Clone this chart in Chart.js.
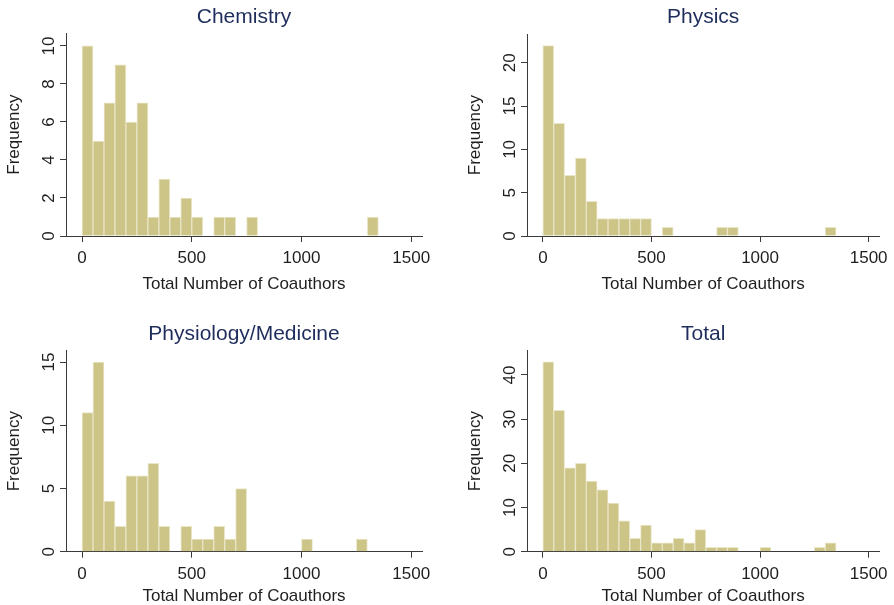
<!DOCTYPE html>
<html><head><meta charset="utf-8">
<script src="https://cdn.jsdelivr.net/npm/chart.js@4.4.0/dist/chart.umd.min.js"></script>
<style>
html,body{margin:0;padding:0;background:#fff;overflow:hidden;width:894px;height:605px;}
.p{position:absolute;}
canvas{display:block;}
</style></head><body>
<div class="p" style="left:0;top:0;"><canvas id="c1" width="447" height="302"></canvas></div>
<div class="p" style="left:447px;top:0;"><canvas id="c2" width="447" height="302"></canvas></div>
<div class="p" style="left:0;top:317px;"><canvas id="c3" width="447" height="290"></canvas></div>
<div class="p" style="left:447px;top:317px;"><canvas id="c4" width="447" height="290"></canvas></div>
<script>
// Histogram bins (start of each 50-wide bin)
const binStart = [0,50,100,150,200,250,300,350,400,450,500,550,600,650,700,750,800,850,900,950,1000,1050,1100,1150,1200,1250,1300];
const binWidth = 50;
const chemistry  = [10,5,7,9,6,7,1,3,1,2,1,0,1,1,0,1,0,0,0,0,0,0,0,0,0,0,1];
const physics    = [22,13,7,9,4,2,2,2,2,2,0,1,0,0,0,0,1,1,0,0,0,0,0,0,0,0,1];
const physiology = [11,15,4,2,6,6,7,2,0,2,1,1,2,1,5,0,0,0,0,0,1,0,0,0,0,1,0];
const total      = [43,32,19,20,16,14,11,7,3,6,2,2,3,2,5,1,1,1,0,0,1,0,0,0,0,1,2];
const panelTitles = ['Chemistry','Physics','Physiology/Medicine','Total'];
const xTickLabels = [0,500,1000,1500];
const chemTicks = [0,2,4,6,8,10];
const physTicks = [0,5,10,15,20];
const medTicks = [0,5,10,15];
const totalTicks = [0,10,20,30,40];
const xAxisTitle = 'Total Number of Coauthors';
const yAxisTitle = 'Frequency';

const FONT = "'Liberation Sans', Arial, Helvetica, sans-serif";
const BAR = 'rgb(205,196,135)';
const BAR_EDGE = 'rgb(234,230,200)';
const AXIS = '#3a3a3a';
const TXT = '#1e1e1e';
const TITLE = '#1f2d5c';

function makeChart(id, title, counts, yTicks, yMax, L) {
  const pts = binStart.map((b, i) => ({x: b + binWidth / 2, y: counts[i]}));
  new Chart(document.getElementById(id), {
    type: 'bar',
    data: {datasets: [{data: pts, backgroundColor: BAR, borderColor: BAR_EDGE, borderWidth: 1,
      barPercentage: 1, categoryPercentage: 1}]},
    options: {
      responsive: false, animation: false,
      layout: {padding: {left: L.pl, right: L.pr, top: 0, bottom: 0}},
      plugins: {
        legend: {display: false}, tooltip: {enabled: false},
        title: {display: true, text: title, fullSize: false, color: TITLE,
          font: {family: FONT, size: 21, weight: 'normal'}, padding: {top: L.tt, bottom: L.tb}}
      },
      scales: {
        x: {
          type: 'linear', min: -73, max: 1549, offset: false,
          afterBuildTicks: s => { s.ticks = xTickLabels.map(v => ({value: v})); },
          afterFit: s => { s.height = L.xh; },
          grid: {display: true, offset: false, drawOnChartArea: false, drawTicks: true, tickLength: 6, color: AXIS},
          border: {display: true, color: AXIS, width: 1},
          ticks: {color: TXT, font: {family: FONT, size: 17}, padding: 6, maxRotation: 0, autoSkip: false,
            callback: v => String(v)},
          title: {display: true, text: xAxisTitle, color: TXT, font: {family: FONT, size: 17},
            padding: {top: 0, bottom: L.xtb}}
        },
        y: {
          min: 0, max: yMax,
          afterBuildTicks: s => { s.ticks = yTicks.map(v => ({value: v})); },
          afterFit: s => { s.width = 66; },
          grid: {display: true, drawOnChartArea: false, drawTicks: true, tickLength: 6, color: AXIS},
          border: {display: true, color: AXIS, width: 1},
          ticks: {color: TXT, font: {family: FONT, size: 17}, padding: 1, minRotation: 90, maxRotation: 90,
            crossAlign: 'center', autoSkip: false, callback: v => String(v)},
          title: {display: true, text: yAxisTitle, color: TXT, font: {family: FONT, size: 17},
            padding: {top: 4.3, bottom: 0}}
        }
      }
    }
  });
}

makeChart('c1', panelTitles[0], chemistry, chemTicks, 10.67, {pl: 0, pr: 25, tt: 5, tb: 3, xh: 66, xtb: 7});
makeChart('c2', panelTitles[1], physics, physTicks, 23.3, {pl: 14, pr: 12, tt: 5, tb: 4, xh: 66, xtb: 7});
makeChart('c3', panelTitles[2], physiology, medTicks, 15.9, {pl: 0, pr: 25, tt: 5, tb: 3.5, xh: 55.3, xtb: 0});
makeChart('c4', panelTitles[3], total, totalTicks, 45.5, {pl: 14, pr: 12, tt: 5, tb: 3.5, xh: 55.3, xtb: 0});
</script>
</body></html>
